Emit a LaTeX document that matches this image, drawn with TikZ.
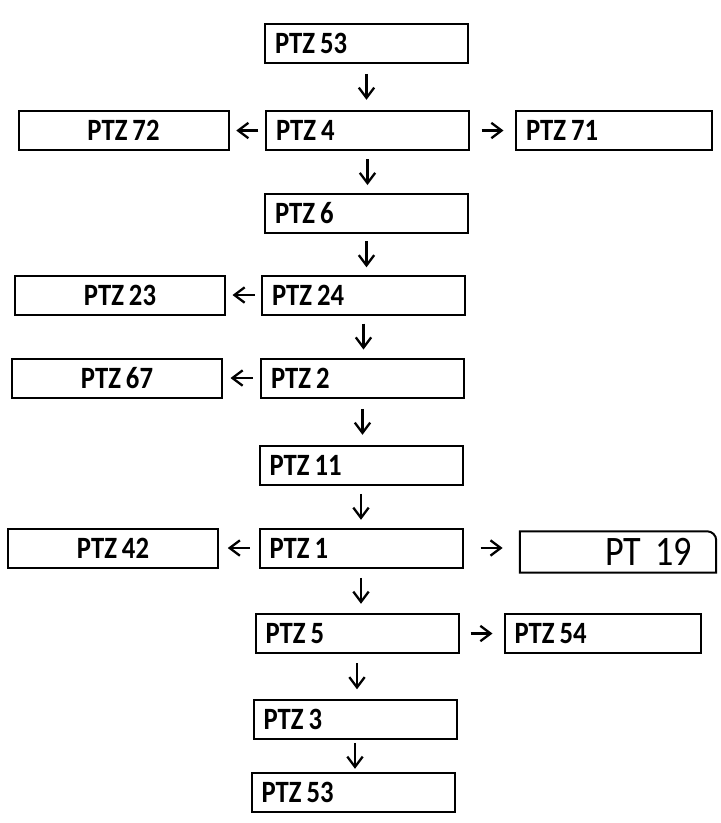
\documentclass[tikz,border=0pt]{standalone}
\usepackage{fontspec}
\setmainfont{Carlito}[FakeStretch=0.86]
\usetikzlibrary{arrows.meta,calc}
\newcommand{\ptzname}[1]{PTZ\kern5pt#1}
\tikzset{
  ptzbox/.style   = {draw,line width=2pt,minimum height=39pt,inner xsep=10pt,
                     font=\fontsize{31}{33}\selectfont\bfseries},
  mainbox/.style  = {ptzbox,text width=183pt,align=left},
  sidebox/.style  = {ptzbox,text width=190pt,align=center},
  farbox/.style   = {ptzbox,text width=176pt,align=left},
  flowarr/.style  = {-{Straight Barb[length=3.6mm,width=5.4mm]},line width=2.3pt}
}

\begin{document}
\begin{tikzpicture}[x=1pt,y=-1pt]
  \useasboundingbox (0,0) rectangle (721,823);
  % main column
  \node[mainbox] (top53) at (366.5,43)  {\ptzname{53}};
  \node[mainbox] (p4)    at (367.5,130.5) {\ptzname{4}};
  \node[mainbox] (p6)    at (366.5,213.5) {\ptzname{6}};
  \node[mainbox] (p24)   at (363.5,295) {\ptzname{24}};
  \node[mainbox] (p2)    at (362.5,378) {\ptzname{2}};
  \node[mainbox] (p11)   at (361,465.5) {\ptzname{11}};
  \node[mainbox] (p1)    at (361,548)   {\ptzname{1}};
  \node[mainbox] (p5)    at (357,633.5) {\ptzname{5}};
  \node[mainbox] (p3)    at (355,719)   {\ptzname{3}};
  \node[mainbox] (bot53) at (353,792.5) {\ptzname{53}};
  % left branch
  \node[sidebox] (p72) at (123.5,130.5) {\ptzname{72}};
  \node[sidebox] (p23) at (120,295)     {\ptzname{23}};
  \node[sidebox] (p67) at (117,378)     {\ptzname{67}};
  \node[sidebox] (p42) at (113,548)     {\ptzname{42}};
  % right branch
  \node[farbox] (p71) at (614,130.5)  {\ptzname{71}};
  \node[farbox] (p54) at (602.5,633.5) {\ptzname{54}};
  \node[text width=148pt,inner xsep=24pt,align=right,minimum height=41pt,
        font=\fontsize{42}{44}\selectfont] (p19) at (618,552) {PT\kern14pt19};
  \draw[line width=2pt] (p19.south east) [rounded corners=9pt] -- (p19.north east)
    [sharp corners] -- (p19.north west) -- (p19.south west) -- cycle;

  % arrows, centred in the gaps
  \foreach \a/\b in {top53/p4,p4/p6,p6/p24,p24/p2,p2/p11,p11/p1,p1/p5,p5/p3,p3/bot53}
    \draw[flowarr] ($($(\a.south)!0.5!(\a.south |- \b.north)$)+(0,-13)$)
      -- ($($(\a.south)!0.5!(\a.south |- \b.north)$)+(0,13)$);
  \foreach \a/\b in {p4/p72,p24/p23,p2/p67,p1/p42}
    \draw[flowarr] ($($(\a.west)!0.5!(\a.west -| \b.east)$)+(11,0)$)
      -- ($($(\a.west)!0.5!(\a.west -| \b.east)$)+(-11,0)$);
  \foreach \a/\b in {p4/p71,p1/p19,p5/p54}
    \draw[flowarr] ($($(\a.east)!0.5!(\a.east -| \b.west)$)+(-11,0)$)
      -- ($($(\a.east)!0.5!(\a.east -| \b.west)$)+(11,0)$);
\end{tikzpicture}
\end{document}
